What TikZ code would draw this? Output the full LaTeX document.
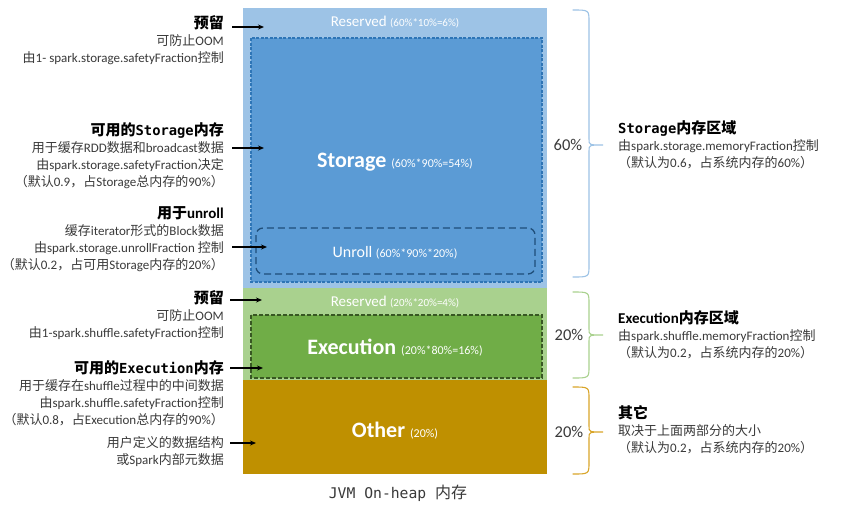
\documentclass[tikz,border=0pt]{standalone}
\usepackage{fontspec}
\setmainfont{Carlito}
\newfontfamily\cjkfont{Noto Sans CJK SC}
\newfontfamily\monof{DejaVu Sans Mono}[Scale=0.92]
\usetikzlibrary{arrows.meta}
\XeTeXinterchartokenstate=1
\newXeTeXintercharclass\cjkcls
\newcount\cjkcnt
\cjkcnt="4E00
\loop \XeTeXcharclass\cjkcnt=\cjkcls \ifnum\cjkcnt<"9FFF \advance\cjkcnt by 1 \repeat
\cjkcnt="3000
\loop \XeTeXcharclass\cjkcnt=\cjkcls \ifnum\cjkcnt<"303F \advance\cjkcnt by 1 \repeat
\cjkcnt="FF00
\loop \XeTeXcharclass\cjkcnt=\cjkcls \ifnum\cjkcnt<"FFEF \advance\cjkcnt by 1 \repeat
\XeTeXinterchartoks 0 \cjkcls = {\begingroup\cjkfont}
\XeTeXinterchartoks 4095 \cjkcls = {\begingroup\cjkfont}
\XeTeXinterchartoks \cjkcls 0 = {\endgroup}
\XeTeXinterchartoks \cjkcls 4095 = {\endgroup}
\definecolor{lblue}{HTML}{9DC3E6}
\definecolor{mblue}{HTML}{5B9BD5}
\definecolor{dblue}{HTML}{2E75B6}
\definecolor{ddblue}{HTML}{1F4E79}
\definecolor{lgreen}{HTML}{A9D18E}
\definecolor{mgreen}{HTML}{70AD47}
\definecolor{dgreen}{HTML}{385723}
\definecolor{gold}{HTML}{BF9000}
\definecolor{goldbr}{HTML}{D9A528}
\definecolor{txtgray}{HTML}{3A3A3A}
\newcommand{\ttl}[1]{{\fontsize{15}{17}\selectfont\bfseries\color{black}#1}}
\newcommand{\mono}[1]{{\monof #1}}
\tikzset{
  lefttxt/.style={anchor=north east, align=right, inner sep=0pt, text=txtgray, font=\fontsize{13}{17}\selectfont},
  righttxt/.style={anchor=north west, align=left, inner sep=0pt, text=txtgray, font=\fontsize{13}{17}\selectfont},
  arr/.style={-{Stealth[length=6pt,width=5pt]}, line width=1.1pt, black},
  intxt/.style={text=white, inner sep=0pt},
  pct/.style={text=txtgray, inner sep=0pt, font=\fontsize{16.5}{18}\selectfont},
  brace/.style={line width=1.1pt, line cap=round}
}
\begin{document}
\begin{tikzpicture}[x=1pt,y=-1pt]
\fill[white] (0,0) rectangle (845,507);
\useasboundingbox (0,0) rectangle (845,507);
% column
\fill[lblue] (243,8) rectangle (547,288);
\fill[lgreen] (243,288) rectangle (547,380);
\fill[gold] (243,380) rectangle (547,474);
\draw[fill=mblue, draw=dblue, line width=1.4pt, dash pattern=on 3pt off 1.5pt] (251,38) rectangle (542,282);
\draw[draw=ddblue, line width=1.3pt, rounded corners=7pt, dash pattern=on 7pt off 4pt] (256,228) rectangle (535,274);
\draw[fill=mgreen, draw=dgreen, line width=1.3pt, dash pattern=on 4pt off 2pt] (251,315) rectangle (542,378);
% inner labels
\node[intxt] (res1) at (395,22) {\fontsize{15}{17}\selectfont Reserved \fontsize{11}{13}\selectfont(60\%*10\%=6\%)};
\node[intxt] (stor) at (395,162) {\fontsize{22}{24}\selectfont\bfseries Storage \fontsize{12}{14}\selectfont\mdseries(60\%*90\%=54\%)};
\node[intxt] (unr) at (395,253) {\fontsize{16}{18}\selectfont Unroll \fontsize{12}{14}\selectfont(60\%*90\%*20\%)};
\node[intxt] (res2) at (395,302) {\fontsize{15}{17}\selectfont Reserved \fontsize{11}{13}\selectfont(20\%*20\%=4\%)};
\node[intxt] (exe) at (395,348) {\fontsize{22}{24}\selectfont\bfseries Execution \fontsize{12}{14}\selectfont\mdseries(20\%*80\%=16\%)};
\node[intxt] (oth) at (395,431) {\fontsize{22}{24}\selectfont\bfseries Other \fontsize{12}{14}\selectfont\mdseries(20\%)};
\node[inner sep=0pt, text=txtgray, font=\monof\fontsize{16}{18}\selectfont] (jvm) at (398,493) {JVM On-heap 内存};
% left texts
\node[lefttxt] (b1) at (224,15) {\ttl{预留}\\可防止OOM\\由1- spark.storage.safetyFraction控制};
\node[lefttxt] (b2) at (224,122) {\ttl{可用的\mono{Storage}内存}\\用于缓存RDD数据和broadcast数据\\由spark.storage.safetyFraction决定\\（默认0.9，占Storage总内存的90\%）};
\node[lefttxt] (b3) at (224,206) {\ttl{用于unroll}\\缓存iterator形式的Block数据\\由spark.storage.unrollFraction 控制\\（默认0.2，占可用Storage内存的20\%）};
\node[lefttxt] (b4) at (224,290) {\ttl{预留}\\可防止OOM\\由1-spark.shuffle.safetyFraction控制};
\node[lefttxt] (b5) at (224,360) {\ttl{可用的\mono{Execution}内存}\\用于缓存在shuffle过程中的中间数据\\由spark.shuffle.safetyFraction控制\\（默认0.8，占Execution总内存的90\%）};
\node[lefttxt] (b6) at (224,436) {用户定义的数据结构\\或Spark内部元数据};
% arrows
\coordinate (a1s) at (232,27);  \coordinate (a1e) at (264,27);
\coordinate (a2s) at (232,148); \coordinate (a2e) at (264,148);
\coordinate (a3s) at (232,247); \coordinate (a3e) at (267,247);
\coordinate (a4s) at (230,300); \coordinate (a4e) at (262,300);
\coordinate (a5s) at (230,368); \coordinate (a5e) at (263,368);
\coordinate (a6s) at (230,443); \coordinate (a6e) at (256,443);
\draw[arr] (a1s) -- (a1e);
\draw[arr] (a2s) -- (a2e);
\draw[arr] (a3s) -- (a3e);
\draw[arr] (a4s) -- (a4e);
\draw[arr] (a5s) -- (a5e);
\draw[arr] (a6s) -- (a6e);
% braces
\draw[brace, lblue] (573,10) .. controls (589,10) .. (589,22) -- (589,139) .. controls (589,145) .. (603,145) .. controls (589,145) .. (589,151) -- (589,265) .. controls (589,277) .. (573,277);
\draw[brace, lgreen] (573,292) .. controls (589,292) .. (589,304) -- (589,329) .. controls (589,335) .. (603,335) .. controls (589,335) .. (589,341) -- (589,366) .. controls (589,378) .. (573,378);
\draw[brace, goldbr] (573,387) .. controls (589,387) .. (589,399) -- (589,426) .. controls (589,432) .. (603,432) .. controls (589,432) .. (589,438) -- (589,462) .. controls (589,474) .. (573,474);
% percentages
\node[pct] (p1) at (568,145) {60\%};
\node[pct] (p2) at (569,335) {20\%};
\node[pct] (p3) at (569,432) {20\%};
% right texts
\node[righttxt] (r1) at (618,120) {\ttl{\mono{Storage}内存区域}\\由spark.storage.memoryFraction控制\\（默认为0.6，占系统内存的60\%）};
\node[righttxt] (r2) at (618,310) {\ttl{Execution内存区域}\\由spark.shuffle.memoryFraction控制\\（默认为0.2，占系统内存的20\%）};
\node[righttxt] (r3) at (618,405) {\ttl{其它}\\取决于上面两部分的大小\\（默认为0.2，占系统内存的20\%）};
\end{tikzpicture}
\end{document}
